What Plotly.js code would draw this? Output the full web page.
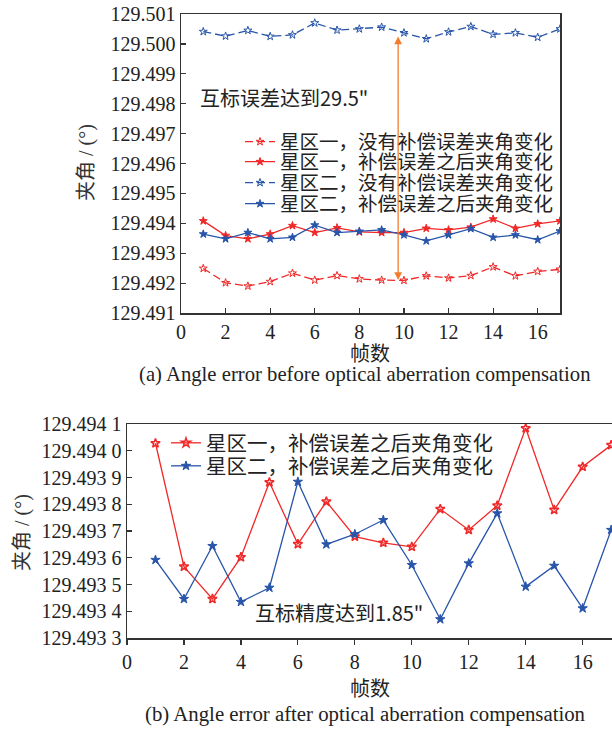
<!DOCTYPE html>
<html>
<head>
<meta charset="utf-8">
<script src="https://cdn.plot.ly/plotly-3.0.1.min.js"></script>
<style>html,body{margin:0;padding:0;background:#fff;}#chart{width:612px;height:729px;}</style>
</head>
<body>
<div id="chart"></div>
<script>
// ---------- data ----------
const frames = [1,2,3,4,5,6,7,8,9,10,11,12,13,14,15,16,17];

// (a) before compensation
const zone1Raw = [129.49249,129.49201,129.49190,129.49205,129.49233,129.49210,129.49225,129.49214,129.49210,129.49209,129.49224,129.49217,129.49225,129.49254,129.49224,129.49239,129.49246];
const zone1Comp = [129.49408,129.49359,129.49348,129.49364,129.49392,129.49369,129.49385,129.49371,129.49369,129.49369,129.49383,129.49378,129.49387,129.49414,129.49383,129.49398,129.49408];
const zone2Raw = [129.50041,129.50026,129.50045,129.50025,129.50030,129.50070,129.50046,129.50050,129.50056,129.50037,129.50017,129.50040,129.50058,129.50032,129.50037,129.50022,129.50050];
const zone2Comp = [129.49364,129.49348,129.49369,129.49348,129.49353,129.49394,129.49369,129.49373,129.49378,129.49361,129.49341,129.49361,129.49382,129.49353,129.49361,129.49345,129.49374];

// (b) after compensation
const zone1After = [129.494028,129.493567,129.493446,129.493602,129.493882,129.493651,129.493810,129.493679,129.493656,129.493641,129.493782,129.493704,129.493795,129.494084,129.493779,129.493940,129.494021];
const zone2After = [129.493592,129.493446,129.493644,129.493435,129.493488,129.493884,129.493650,129.493688,129.493741,129.493573,129.493370,129.493579,129.493766,129.493492,129.493570,129.493411,129.493704];

const names = ['星区一，没有补偿误差夹角变化','星区一，补偿误差之后夹角变化','星区二，没有补偿误差夹角变化','星区二，补偿误差之后夹角变化'];

const topYTicks = [129.491,129.492,129.493,129.494,129.495,129.496,129.497,129.498,129.499,129.500,129.501];
const botYTicks = [129.4933,129.4934,129.4935,129.4936,129.4937,129.4938,129.4939,129.4940,129.4941];
const botYText = ['129.493 3','129.493 4','129.493 5','129.493 6','129.493 7','129.493 8','129.493 9','129.494 0','129.494 1'];
const xTicks = [0,2,4,6,8,10,12,14,16];

// arrow marking the offset between the two zones (frame, angle)
const arrowX = 9.74;
const arrowTop = 129.5003;
const arrowBottom = 129.4921;

// ---------- styles ----------
const RED = 'rgb(240,40,40)';
const BLUE = 'rgb(40,85,170)';
const ORANGE = 'rgb(240,125,45)';
const AX = '#333333';
const SERIF = '"Liberation Serif", "Times New Roman", "Noto Sans CJK SC", serif';
const CJK = '"Noto Sans CJK SC", "Liberation Serif", sans-serif';
const W = 612, H = 729;
const px = v => v / W;
const py = v => 1 - v / H;

function tr(x, y, name, color, dash, symbol, xa, ya, leg) {
  return {
    x: x, y: y, name: name, type: 'scatter', mode: 'lines+markers',
    xaxis: xa, yaxis: ya, legend: leg,
    line: {color: color, width: 1.3, dash: dash},
    marker: {symbol: symbol, size: 6, color: color, line: {color: color, width: 1}},
    hoverinfo: 'skip'
  };
}

const dashP = '8px,4px';
const data = [
  tr(frames, zone1Raw, names[0], RED, dashP, 'star-open', 'x', 'y', 'legend'),
  tr(frames, zone1Comp, names[1], RED, 'solid', 'star', 'x', 'y', 'legend2'),
  tr(frames, zone2Raw, names[2], BLUE, dashP, 'star-open', 'x', 'y', 'legend3'),
  tr(frames, zone2Comp, names[3], BLUE, 'solid', 'star', 'x', 'y', 'legend4'),
  tr(frames, zone1After, names[1], RED, 'solid', 'star-open', 'x2', 'y2', 'legend5'),
  tr(frames, zone2After, names[3], BLUE, 'solid', 'star', 'x2', 'y2', 'legend6')
];
data[4].marker.line.width = 1.5;
data[4].marker.size = 7;
data[5].marker.size = 7;

function leg(xPix, yPix, fs) {
  return {
    x: px(xPix), y: py(yPix), xanchor: 'left', yanchor: 'middle',
    bgcolor: 'rgba(0,0,0,0)', borderwidth: 0, itemwidth: 30,
    font: {family: CJK, size: fs, color: '#222'}
  };
}

const tickFont = {family: SERIF, size: 20, color: '#222'};

const layout = {
  width: W, height: H,
  margin: {l: 0, r: 0, t: 0, b: 0},
  paper_bgcolor: '#fff', plot_bgcolor: '#fff',
  showlegend: true,
  xaxis: {
    domain: [px(181), px(560)], range: [0, 17], anchor: 'y',
    tickvals: xTicks, ticks: 'inside', ticklen: 5, tickwidth: 1.2, tickcolor: AX,
    showline: true, linecolor: AX, linewidth: 1.5, mirror: true,
    showgrid: false, zeroline: false, tickfont: tickFont
  },
  yaxis: {
    domain: [py(313), py(14)], range: [129.491, 129.501], anchor: 'x',
    tickvals: topYTicks, tickformat: '.3f', ticks: 'inside', ticklen: 5, tickwidth: 1.2, tickcolor: AX,
    showline: true, linecolor: AX, linewidth: 1.5, mirror: true,
    showgrid: false, zeroline: false, tickfont: tickFont
  },
  xaxis2: {
    domain: [px(127), 1], range: [0, 17.03], anchor: 'y2',
    tickvals: xTicks, ticks: 'outside', ticklen: 5, tickwidth: 1.2, tickcolor: AX,
    showline: true, linecolor: AX, linewidth: 1.5, mirror: true,
    showgrid: false, zeroline: false, tickfont: tickFont
  },
  yaxis2: {
    domain: [py(638), py(424)], range: [129.4933, 129.4941], anchor: 'x2',
    tickvals: botYTicks, ticktext: botYText, ticks: 'inside', ticklen: 5, tickwidth: 1.2, tickcolor: AX,
    showline: true, linecolor: AX, linewidth: 1.5, mirror: true,
    showgrid: false, zeroline: false, tickfont: tickFont
  },
  legend: leg(240, 142, 19.5),
  legend2: leg(240, 162, 19.5),
  legend3: leg(240, 183, 19.5),
  legend4: leg(240, 204, 19.5),
  legend5: leg(166, 443, 20.5),
  legend6: leg(166, 466, 20.5),
  annotations: [
    {xref: 'x', yref: 'y', x: arrowX, y: arrowBottom, axref: 'x', ayref: 'y', ax: arrowX, ay: arrowTop,
     text: '', showarrow: true, arrowside: 'end+start', arrowhead: 2, arrowsize: 1.2, arrowwidth: 1.3, arrowcolor: ORANGE},
    {xref: 'paper', yref: 'paper', x: px(198), y: py(97), xanchor: 'left', yanchor: 'middle', showarrow: false,
     text: '互标误差达到29.5"', font: {family: CJK, size: 20, color: '#222'}},
    {xref: 'paper', yref: 'paper', x: px(253), y: py(612), xanchor: 'left', yanchor: 'middle', showarrow: false,
     text: '互标精度达到1.85"', font: {family: CJK, size: 20, color: '#222'}},
    {xref: 'paper', yref: 'paper', x: px(86), y: py(163), xanchor: 'center', yanchor: 'middle', showarrow: false, textangle: -90,
     text: '夹角 / (°)', font: {family: SERIF, size: 20, color: '#333'}},
    {xref: 'paper', yref: 'paper', x: px(22), y: py(533), xanchor: 'center', yanchor: 'middle', showarrow: false, textangle: -90,
     text: '夹角 / (°)', font: {family: SERIF, size: 20, color: '#333'}},
    {xref: 'paper', yref: 'paper', x: px(370), y: py(354), xanchor: 'center', yanchor: 'middle', showarrow: false,
     text: '帧数', font: {family: SERIF, size: 20, color: '#222'}},
    {xref: 'paper', yref: 'paper', x: px(370), y: py(689), xanchor: 'center', yanchor: 'middle', showarrow: false,
     text: '帧数', font: {family: SERIF, size: 20, color: '#222'}},
    {xref: 'paper', yref: 'paper', x: px(365), y: py(374), xanchor: 'center', yanchor: 'middle', showarrow: false,
     text: '(a) Angle error before optical aberration compensation', font: {family: SERIF, size: 20.7, color: '#222'}},
    {xref: 'paper', yref: 'paper', x: px(365), y: py(714), xanchor: 'center', yanchor: 'middle', showarrow: false,
     text: '(b) Angle error after optical aberration compensation', font: {family: SERIF, size: 20.8, color: '#222'}}
  ]
};

Plotly.newPlot('chart', data, layout, {staticPlot: true, displayModeBar: false});
</script>
</body>
</html>
